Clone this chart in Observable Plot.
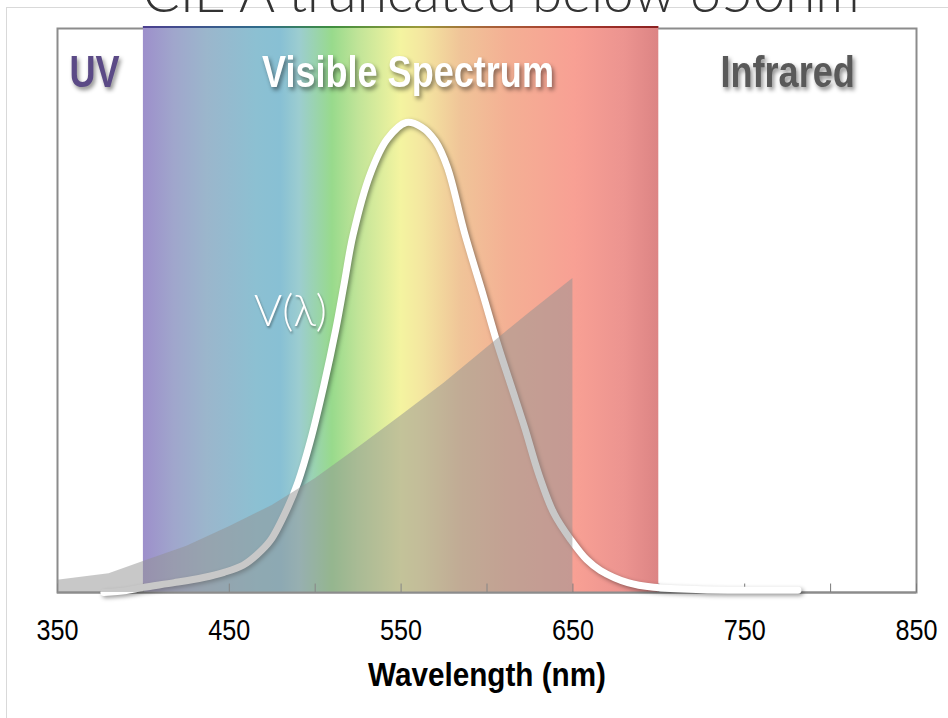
<!DOCTYPE html>
<html>
<head>
<meta charset="utf-8">
<script src="https://cdn.jsdelivr.net/npm/d3@7"></script>
<script src="https://cdn.jsdelivr.net/npm/@observablehq/plot@0.6"></script>
<style>
  body { margin: 0; background: #fff; }
  #wrap { position: relative; width: 948px; height: 718px; overflow: hidden; }
  #border { position: absolute; left: 6px; top: 7px; width: 960px; height: 720px;
            border-left: 1px solid #d9d9d9; border-top: 1px solid #d9d9d9; pointer-events: none; }
  #chart { position: absolute; left: 0; top: 0; }
  g[aria-description="zone-labels"] { filter: drop-shadow(2px 3px 2px rgba(0,0,0,0.45)); }
  g[aria-description="v-curve"] { filter: drop-shadow(2px 2px 2px rgba(0,0,0,0.4)); }
  g[aria-description="v-label"] { filter: drop-shadow(1px 2px 1px rgba(0,0,0,0.35)); }
</style>
</head>
<body>
<div id="wrap"><div id="border"></div><div id="chart"></div></div>
<script>
// ---- data ----
const title = "CIE A truncated below 650nm";
const xLabel = "Wavelength (nm)";
const tickLabels = [350, 450, 550, 650, 750, 850];
const tickMarks = [350, 400, 450, 500, 550, 600, 650, 700, 750, 800, 850];

// visible band
const bandStart = 400, bandEnd = 700;
const spectrumNm = [400, 418, 437, 466, 480, 491, 510, 525, 550, 563, 585, 612, 651, 680, 700];
const spectrumColors = ["#9d8fcb", "#a0a6cc", "#9bb6cc", "#8cc0d2", "#88c0d4", "#9ccdd0", "#98da8c", "#c0e498",
                        "#f4f4a0", "#f4e6a0", "#f0c498", "#f4b094", "#f8a094", "#ec9490", "#dc8484"];
const edgeNm = [400, 470, 510, 560, 600, 650, 700];
const edgeColors = ["#4b3f8f", "#2f6d8a", "#3f8f3f", "#9a9a3a", "#a8643a", "#a83a2e", "#8a2020"];

// CIE A (truncated at 650 nm), relative units on the chart's scale
const cieNm  = [350, 380, 400, 425, 450, 475, 500, 525, 550, 575, 600, 625, 650];
const cieVal = [2.6, 4.0, 6.6, 9.8, 14.0, 18.5, 24.2, 30.8, 37.6, 44.5, 52.1, 59.6, 66.8];

// V(lambda), percent of peak
const vNm  = [377, 390, 400, 418, 435, 447, 458, 466, 474, 484, 490, 497, 505, 512, 517, 522, 532, 542, 553,
              562, 570, 577, 587, 598, 606, 614, 622, 630, 639, 649, 658, 666, 682, 697, 725, 781];
const vVal = [0, 0.4, 1.1, 2.1, 3.2, 4.3, 5.8, 8, 11.1, 18.1, 23.5, 32, 44, 56, 66, 76, 89, 96.5, 100,
              99, 96, 90.4, 76.4, 63, 53, 44, 35, 25.3, 16.8, 11.1, 7, 4.7, 2.1, 1.1, 0.6, 0.5];

// zone labels
const zoneText   = ["UV", "Visible Spectrum", "Infrared"];
const zoneNm     = [371.5, 554, 775];
const zoneColors = ["#5b4a86", "#ffffff", "#595959"];
const zoneLevel  = 110.6;
const vLabel = "V(λ)";
const vLabelNm = 485.6, vLabelLevel = 59.6;

// ---- tables ----
const cie = cieNm.map((nm, i) => ({nm, v: cieVal[i]}));
const vcurve = vNm.map((nm, i) => ({nm, v: vVal[i]}));
const zones = zoneText.map((t, i) => ({t, nm: zoneNm[i], c: zoneColors[i]}));

const sans = "'Liberation Sans', Arial, sans-serif";
const thin = "Lato, 'Open Sans', 'Noto Sans', sans-serif";

const plot = Plot.plot({
  width: 948, height: 718,
  marginTop: 28, marginBottom: 126, marginLeft: 57, marginRight: 32,
  x: {domain: [350, 850], axis: null},
  y: {domain: [0, 120], axis: null},
  color: {type: "identity"},
  style: {background: "transparent"},
  marks: [
    Plot.frame({stroke: "#8c8c8c", strokeWidth: 2}),
    Plot.rect([{a: bandStart, b: bandEnd}], {x1: "a", x2: "b", y1: 0, y2: 120, insetTop: -2, fill: "url(#spectrum)"}),
    Plot.ruleY([120], {x1: bandStart, x2: bandEnd, stroke: "url(#spectrumEdge)", strokeWidth: 2, dy: -1.5}),
    Plot.ruleY([0], {stroke: "#8c8c8c", strokeWidth: 2}),
    Plot.ruleX(tickMarks, {x: d => d, y1: 0, y2: 1.8, stroke: "#7a7a7a", strokeWidth: 1}),
    Plot.line(vcurve, {x: "nm", y: "v", stroke: "#ffffff", strokeWidth: 7, curve: "catmull-rom",
                       strokeLinecap: "round", strokeLinejoin: "round", ariaDescription: "v-curve"}),
    Plot.areaY(cie, {x: "nm", y: "v", fill: "#919191", fillOpacity: 0.5, curve: "linear"}),
    Plot.text([vLabel], {x: vLabelNm, y: vLabelLevel, text: d => d, fill: "#ffffff", fontSize: 43,
                         fontFamily: thin, fontWeight: 300, ariaDescription: "v-label"}),
    Plot.text(zones, {x: "nm", y: zoneLevel, text: "t", fill: "c", fontSize: 44, fontWeight: "bold",
                      fontFamily: sans, ariaDescription: "zone-labels"}),
    Plot.text(tickLabels, {x: d => d, text: d => String(d), frameAnchor: "bottom", dy: 47,
                           fontSize: 30, fontFamily: sans, fill: "#000", ariaDescription: "tick-labels"}),
    Plot.text([xLabel], {text: d => d, frameAnchor: "bottom", dy: 93, fontSize: 33, fontWeight: "bold",
                         fontFamily: sans, fill: "#000", ariaDescription: "x-label"}),
    Plot.text([title], {text: d => d, frameAnchor: "top", dy: -17, dx: 14, lineAnchor: "bottom",
                        fontSize: 55, fontWeight: 300, fontFamily: thin, fill: "#333"})
  ]
});

// gradients for the visible band
const sx = plot.scale("x");
const svg = d3.select(plot);
const defs = svg.insert("defs", ":first-child");
function grad(id, nms, cols) {
  const g = defs.append("linearGradient").attr("id", id).attr("gradientUnits", "userSpaceOnUse")
    .attr("x1", sx.apply(bandStart)).attr("x2", sx.apply(bandEnd)).attr("y1", 0).attr("y2", 0);
  nms.forEach((nm, i) => g.append("stop")
    .attr("offset", (nm - bandStart) / (bandEnd - bandStart)).attr("stop-color", cols[i]));
}
grad("spectrum", spectrumNm, spectrumColors);
grad("spectrumEdge", edgeNm, edgeColors);

// condense the Calibri-like texts horizontally
function squeeze(desc, k) {
  svg.selectAll(`g[aria-description="${desc}"] text`).each(function () {
    let t = this.getAttribute("transform");
    if (!t) {
      const x = +this.getAttribute("x") || 0, y = +this.getAttribute("y") || 0;
      this.removeAttribute("x"); this.removeAttribute("y");
      t = `translate(${x},${y})`;
    }
    this.setAttribute("transform", `${t} scale(${k},1)`);
  });
}
squeeze("zone-labels", 0.82);
squeeze("tick-labels", 0.84);
squeeze("x-label", 0.9);

document.getElementById("chart").appendChild(plot);
</script>
</body>
</html>
